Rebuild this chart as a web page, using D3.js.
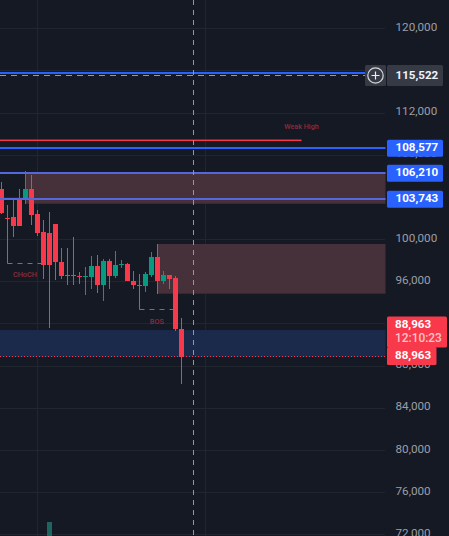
<!DOCTYPE html>
<html><head><meta charset="utf-8">
<style>html,body{margin:0;padding:0;background:#151924;overflow:hidden}svg{display:block}</style>
<script src="https://cdnjs.cloudflare.com/ajax/libs/d3/7.8.5/d3.min.js"></script>
</head><body><div id="c"></div>
<script>
const tickValues=[120000,116000,112000,108000,104000,100000,96000,92000,88000,84000,80000,76000,72000];
const opens =[104753,102001,102096,103804,103709,104753,102381,100673,100578,101432,97826,96593,96593,96498,96403,96403,97447,95644,97921,96498,97542,97637,96023,95644,95549,96593,98301,96023,96593,96308,91470];
const closes=[102476,101906,101242,101242,104753,102286,100578,97542,97542,97826,96498,96498,96498,96403,96498,97447,95644,97921,96498,97542,97637,96023,95644,95549,96688,98301,96023,96593,96213,91470,88813];
const highs =[105417,103235,103804,104753,106461,106081,102760,101811,102571,101432,99155,99155,100199,96878,97352,98396,98491,98111,98111,98870,98016,97731,96973,96688,96878,98775,99535,96973,96593,96498,92513];
const lows  =[102381,101811,100199,101242,103330,101337,100293,96213,91564,96118,96213,95644,95644,95739,94695,95264,94885,94126,95264,96308,97257,96023,95264,95360,94980,96403,94790,95739,95264,91280,86251];
const volIndex=[8], volValues=[14];
const level115=115730, level108=108671, level106=106299, level103=103832, weakHigh=109373, crossPrice=115522, lastDrawn=88813;
const zoneATop=106366, zoneABot=103358, zoneBTop=99535, zoneBBot=94820, zoneCTop=91374, zoneCBot=88813;
const gridIdx=[6,34], crossIdx=32, endIdx=64;

const W=449,H=536;
const bg="#151924",gridC="#21252f",red="#f7394b",green="#089981",blue="#2962ff",blue2="#5468dd";
const y=d3.scaleLinear().domain([120000,72000]).range([28.3,534.2]);
const x=d3.scaleLinear().domain([0,1]).range([1.5,7.5]);
const font="Roboto, 'Liberation Sans', sans-serif";
const svg=d3.select("#c").append("svg").attr("width",W).attr("height",H).style("background",bg);

// grid
svg.append("g").selectAll("line").data(tickValues).join("line")
 .attr("x1",0).attr("x2",385).attr("y1",d=>Math.round(y(d))+.5).attr("y2",d=>Math.round(y(d))+.5)
 .attr("stroke",gridC);
svg.append("g").selectAll("line").data(gridIdx).join("line")
 .attr("x1",d=>Math.floor(x(d))+.5).attr("x2",d=>Math.floor(x(d))+.5).attr("y1",0).attr("y2",H)
 .attr("stroke",gridC);

// volume
const vol=d3.scaleLinear().domain([0,14]).range([536,522]);
svg.append("g").selectAll("rect").data(volIndex).join("rect")
 .attr("x",d=>x(d)-2.5).attr("width",5).attr("y",(d,i)=>vol(volValues[i])).attr("height",(d,i)=>536-vol(volValues[i]))
 .attr("fill","#1f655f");

// zones
const zones=[[4,zoneATop,zoneABot,"#46313a"],[26,zoneBTop,zoneBBot,"#46313a"],[0,zoneCTop,zoneCBot,"#1b2a4b"]];
svg.append("g").selectAll("rect").data(zones).join("rect")
 .attr("x",d=>d[0]===0?0:x(d[0])).attr("width",d=>385.5-(d[0]===0?0:x(d[0])))
 .attr("y",d=>y(d[1])).attr("height",d=>y(d[2])-y(d[1])).attr("fill",d=>d[3]);

// candles
const g=svg.append("g");
opens.forEach((o,i)=>{
 const c=closes[i],col=c>=o?green:red;
 g.append("line").attr("x1",x(i)).attr("x2",x(i)).attr("y1",Math.round(y(highs[i]))).attr("y2",Math.round(y(lows[i]))).attr("stroke",col).attr("stroke-width",1);
 const t=Math.round(Math.min(y(o),y(c))),b=Math.round(Math.max(y(o),y(c)));
 g.append("rect").attr("x",x(i)-2.5).attr("width",5).attr("y",t).attr("height",Math.max(1,b-t)).attr("fill",col);
});

// structure lines
const st="#f7394b";
function structure(i0,i1,top,bot){
 const yb=Math.round(y(bot))+.5;
 svg.append("line").attr("x1",x(i0)).attr("x2",x(i0)).attr("y1",y(top)).attr("y2",yb).attr("stroke",st);
 svg.append("line").attr("x1",x(i0)).attr("x2",x(i1)).attr("y1",yb).attr("y2",yb).attr("stroke",st).attr("stroke-dasharray","5 5");
}
structure(1,7,102001,97698);
structure(23,29,96688,93367);

// horizontal levels
[[level108,blue,0,385.5],[level106,blue2,0,385.5],[level103,blue2,0,385.5],[level115,blue,0,365]].forEach(l=>{
 svg.append("rect").attr("x",l[2]).attr("width",l[3]-l[2]).attr("y",Math.round(y(l[0])-1)).attr("height",2).attr("fill",l[1]);
});
svg.append("rect").attr("x",0).attr("width",x(50)).attr("y",y(weakHigh)-.75).attr("height",1.5).attr("fill",red);
svg.append("line").attr("x1",0).attr("x2",365).attr("y1",Math.round(y(crossPrice))+.5).attr("y2",Math.round(y(crossPrice))+.5)
 .attr("stroke","#9598a1").attr("stroke-dasharray","6 5");
svg.append("line").attr("x1",0).attr("x2",385.5).attr("y1",Math.round(y(lastDrawn))-.5).attr("y2",Math.round(y(lastDrawn))-.5)
 .attr("stroke",red).attr("stroke-dasharray","1 2");

// crosshair
svg.append("line").attr("x1",x(crossIdx)).attr("x2",x(crossIdx)).attr("y1",0).attr("y2",H)
 .attr("stroke","#9598a1").attr("stroke-dasharray","5 5");

// annotations
const ann=[["CHoCH",3.9,96640,7.3],["BOS",25.9,92181,7.3],["Weak High",50,110650,7.2]];
svg.append("g").selectAll("text").data(ann).join("text")
 .attr("x",d=>x(d[1])).attr("y",d=>y(d[2])).attr("text-anchor","middle").attr("dominant-baseline","central")
 .attr("font-family",font).attr("font-size",d=>d[3]).attr("font-weight",500).attr("fill","#8f2c3c").text(d=>d[0]);

// axis
const axis=d3.axisRight(y).tickValues(tickValues).tickSize(0).tickPadding(0).tickFormat(d3.format(","));
const ag=svg.append("g").attr("transform","translate(395.5,-1.6)").call(axis);
ag.select(".domain").remove();
ag.selectAll("text").attr("font-family",font).attr("font-size",11.7).attr("fill","#9b9ea6");

// tags
function tag(x0,x1,cy,h,fill,txt,txtFill,tx){
 svg.append("rect").attr("x",x0).attr("y",cy-h/2).attr("width",x1-x0).attr("height",h).attr("rx",1.5).attr("fill",fill);
 if(txt) svg.append("text").attr("x",tx||395.5).attr("y",cy-1).attr("dominant-baseline","central")
  .attr("font-family",font).attr("font-size",11.6).attr("font-weight",700).attr("fill",txtFill).text(txt);
}
tag(365,386,75.5,21,"#363a45");
svg.append("circle").attr("cx",375.5).attr("cy",75.5).attr("r",7.7).attr("fill","none").attr("stroke","#d8d9dc").attr("stroke-width",1.2);
svg.append("path").attr("d","M371.5 75.5H379.5M375.5 71.5V79.5").attr("stroke","#eee").attr("stroke-width",1.2);
tag(387,443,75.5,21,"#363a45","115,522","#f0f3fa");
tag(387,443,148.3,17,blue,"108,577","#fff");
tag(387,443,173.3,17,blue,"106,210","#fff");
tag(387,443,199.3,17,blue,"103,743","#fff");
tag(387,447,332,31,red);
tag(387,436.5,356,18,red);
[["88,963",323.5,"#fff",700,11.6],["12:10:23",338,"#ffc2c7",500,11.9],["88,963",355,"#fff",700,11.6]].forEach(d=>{
 svg.append("text").attr("x",395).attr("y",d[1]).attr("dominant-baseline","central").attr("font-family",font)
  .attr("font-size",d[4]).attr("font-weight",d[3]).attr("fill",d[2]).text(d[0]);
});
</script></body></html>
